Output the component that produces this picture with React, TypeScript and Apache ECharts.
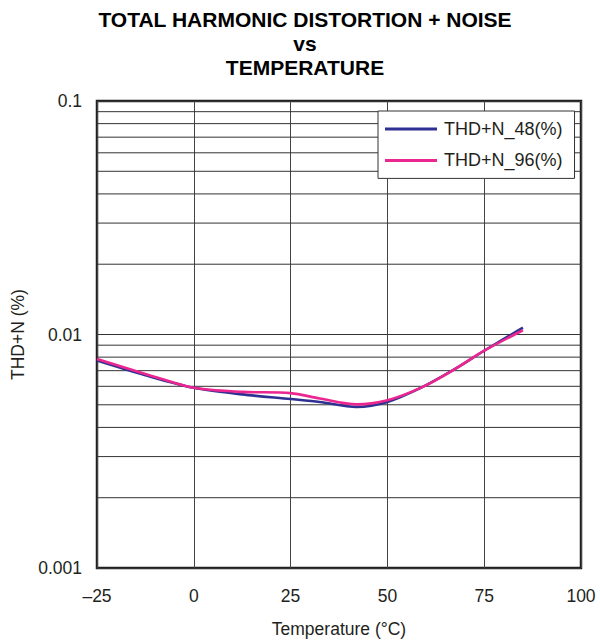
import React, { useEffect, useRef } from "react";
import * as echarts from "echarts";

const titleLines = ["TOTAL HARMONIC DISTORTION + NOISE", "vs", "TEMPERATURE"];
const temps = [-25, -12.5, 0, 12.5, 25, 32.5, 42, 50, 59, 67.5, 75, 85];
const thd48 = [0.00773, 0.00669, 0.00591, 0.00554, 0.00529, 0.00514, 0.00489, 0.00514, 0.00595, 0.00712, 0.00852, 0.01071];
const thd96 = [0.00785, 0.00678, 0.00591, 0.00568, 0.00561, 0.00532, 0.00502, 0.00523, 0.00595, 0.00712, 0.00852, 0.01043];
const seriesNames = ["THD+N_48(%)", "THD+N_96(%)"];
const yTicks = [0.001, 0.01, 0.1];
const yTickLabels = ["0.001", "0.01", "0.1"];
const yMinorGrid = [
  0.002, 0.003, 0.004, 0.005, 0.006, 0.007, 0.008, 0.009,
  0.02, 0.03, 0.04, 0.05, 0.06, 0.07, 0.08, 0.09,
];
const xMin = -25;
const xMax = 100;
const xStep = 25;

const FONT = "'Liberation Sans', Arial, Helvetica, sans-serif";
const TXT = "#231f20";

export default function App() {
  const ref = useRef<HTMLDivElement>(null);
  useEffect(() => {
    if (!ref.current) return;
    const chart = echarts.init(ref.current, null, { renderer: "svg" });
    const gridSeries = yMinorGrid.map((v, i) => ({
      name: "minor" + i,
      type: "line",
      data: [
        [xMin, v],
        [xMax, v],
      ],
      showSymbol: false,
      symbol: "none",
      silent: true,
      legendHoverLink: false,
      lineStyle: { color: "#333", width: 1 },
      emphasis: { disabled: true },
      z: 1,
    }));
    chart.setOption({
      animation: false,
      backgroundColor: "#fff",
      textStyle: { fontFamily: FONT },
      title: {
        text: titleLines.join("\n"),
        left: 305,
        textAlign: "center",
        top: 7,
        padding: 0,
        textStyle: {
          fontFamily: FONT,
          fontSize: 21,
          fontWeight: "bold",
          lineHeight: 24,
          color: "#000",
        },
      },
      legend: {
        orient: "vertical",
        left: 378,
        top: 111,
        padding: [9, 12, 9, 7],
        itemGap: 13.4,
        itemWidth: 52,
        itemHeight: 3,
        icon: "rect",
        backgroundColor: "#fff",
        borderColor: "#333",
        borderWidth: 1,
        textStyle: { fontFamily: FONT, fontSize: 18, lineHeight: 18, color: TXT, padding: [0, 0, 0, 2] },
        data: seriesNames,
      },
      grid: {
        left: 97,
        right: 19,
        top: 101,
        bottom: 71.5,
        show: true,
        borderColor: "#231f20",
        borderWidth: 2.5,
        backgroundColor: "#fff",
        containLabel: false,
      },
      xAxis: {
        type: "value",
        min: xMin,
        max: xMax,
        interval: xStep,
        name: "Temperature (°C)",
        nameLocation: "middle",
        nameGap: 52,
        nameTextStyle: { fontFamily: FONT, fontSize: 17.5, color: TXT },
        axisLine: { show: false },
        axisTick: { show: false },
        axisLabel: {
          margin: 19,
          fontFamily: FONT,
          fontSize: 17.5,
          color: TXT,
          formatter: (v: number) => (v < 0 ? "\u2013" + Math.abs(v) : String(v)),
        },
        splitLine: { show: true, lineStyle: { color: "#444", width: 1 } },
      },
      yAxis: {
        type: "log",
        logBase: 10,
        min: yTicks[0],
        max: yTicks[yTicks.length - 1],
        name: "THD+N (%)",
        nameLocation: "middle",
        nameGap: 69,
        nameTextStyle: { fontFamily: FONT, fontSize: 17.5, color: TXT },
        axisLine: { show: false },
        axisTick: { show: false },
        axisLabel: {
          margin: 15,
          fontFamily: FONT,
          fontSize: 17.5,
          color: TXT,
          formatter: (v: number) => {
            const i = yTicks.findIndex((t) => Math.abs(Math.log10(t) - Math.log10(v)) < 1e-6);
            return i >= 0 ? yTickLabels[i] : "";
          },
        },
        splitLine: { show: true, lineStyle: { color: "#333", width: 1 } },
      },
      series: [
        ...gridSeries,
        {
          name: seriesNames[0],
          type: "line",
          data: temps.map((t, i) => [t, thd48[i]]),
          smooth: 0.3,
          showSymbol: false,
          symbol: "none",
          color: "#2e3192",
          lineStyle: { color: "#2e3192", width: 2.6 },
          z: 3,
        },
        {
          name: seriesNames[1],
          type: "line",
          data: temps.map((t, i) => [t, thd96[i]]),
          smooth: 0.3,
          showSymbol: false,
          symbol: "none",
          color: "#ec2690",
          lineStyle: { color: "#ec2690", width: 2.6 },
          z: 4,
        },
      ],
    });
    return () => chart.dispose();
  }, []);
  return (
    <div
      ref={ref}
      style={{ position: "absolute", left: 0, top: 0, width: 600, height: 643 }}
    />
  );
}
